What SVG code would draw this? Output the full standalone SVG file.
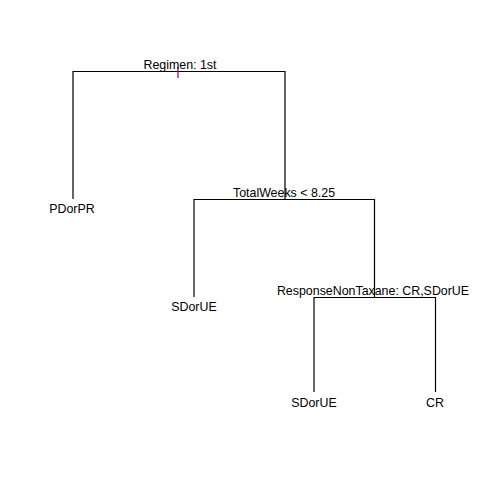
<svg xmlns="http://www.w3.org/2000/svg" width="480" height="480" viewBox="0 0 480 480">
<style>
.e{fill:none;stroke:#000;stroke-width:1.2}
text{font-family:"Liberation Sans",Arial,sans-serif;font-size:12.4px;fill:#000;text-anchor:middle}
</style>
<rect width="480" height="480" fill="#fff"/>
<g id="connectors">
<path class="e" d="M73,199 V71.5 H285 V199.5"/>
<path class="e" d="M194,297 V199.5 H374.5 V297.5"/>
<path class="e" d="M314,392 V297.5 H435.5 V392"/>
<line x1="178" y1="67" x2="178" y2="78" stroke="#800080" stroke-width="1.2"/>
</g>
<g id="n1"><text x="180" y="69">Regimen: 1st</text></g>
<g id="n2"><text x="72" y="213">PDorPR</text></g>
<g id="n3"><text x="284" y="197">TotalWeeks &lt; 8.25</text></g>
<g id="n4"><text x="194" y="311">SDorUE</text></g>
<g id="n5"><text x="373" y="295">ResponseNonTaxane: CR,SDorUE</text></g>
<g id="n6"><text x="314" y="407">SDorUE</text></g>
<g id="n7"><text x="435" y="407">CR</text></g>
</svg>
